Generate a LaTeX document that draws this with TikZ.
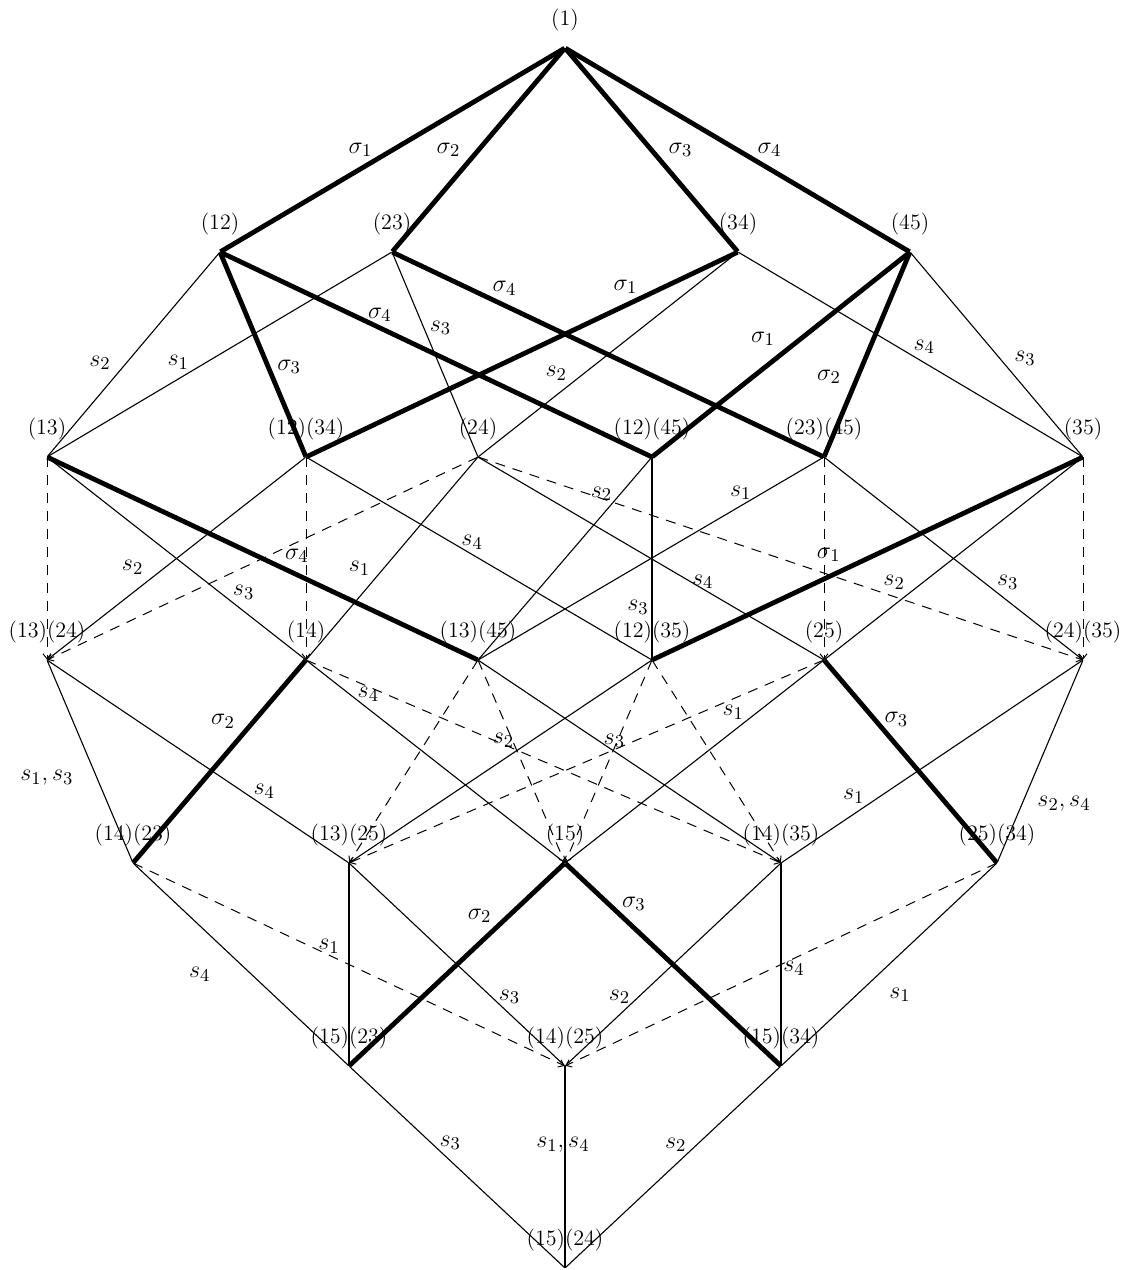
\documentclass[tikz,border=0pt]{standalone}
\usepackage{amsmath}
\usetikzlibrary{arrows.meta}
\DeclareMathSizes{12}{12}{9}{7}
\tikzset{
  vx/.style={inner sep=0pt, minimum size=0pt},
  thin edge/.style={line width=0.55pt},
  thick edge/.style={line width=2.4pt},
  dash edge/.style={line width=0.5pt, dash pattern=on 5pt off 4pt, -{Straight Barb[length=2.5pt,width=4pt]}},
  lbl/.style={inner sep=1pt, font=\fontsize{12}{14}\selectfont}
}

\begin{document}
\begin{tikzpicture}[x=0.5pt, y=-0.5pt, label distance=4.4pt, every node/.append style={lbl},
    every label/.append style={font=\fontsize{11}{13}\selectfont, inner sep=3.67pt}]
  \useasboundingbox (0,0) rectangle (1134,1270);
  % level 0 and 1
  \node[vx, label={above:(1)}] (e) at (565,48) {};
  \node[vx, label={above:(12)}] (t12) at (220,252) {};
  \node[vx, label={above:(23)}] (t23) at (392,252) {};
  \node[vx, label={above:(34)}] (t34) at (738,252) {};
  \node[vx, label={above:(45)}] (t45) at (910,252) {};
  % level 2
  \node[vx, label={above:(13)}] (t13) at (47,457) {};
  \node[vx, label={above:(12)(34)}] (d1234) at (306,457) {};
  \node[vx, label={above:(24)}] (t24) at (478,457) {};
  \node[vx, label={above:(12)(45)}] (d1245) at (652,457) {};
  \node[vx, label={above:(23)(45)}] (d2345) at (824,457) {};
  \node[vx, label={above:(35)}] (t35) at (1083,457) {};
  % level 3
  \node[vx, label={above:(13)(24)}] (d1324) at (47,660) {};
  \node[vx, label={above:(14)}] (t14) at (306,660) {};
  \node[vx, label={above:(13)(45)}] (d1345) at (478,660) {};
  \node[vx, label={above:(12)(35)}] (d1235) at (652,660) {};
  \node[vx, label={above:(25)}] (t25) at (824,660) {};
  \node[vx, label={above:(24)(35)}] (d2435) at (1083,660) {};
  % level 4
  \node[vx, label={above:(14)(23)}] (d1423) at (133,863) {};
  \node[vx, label={above:(13)(25)}] (d1325) at (349,863) {};
  \node[vx, label={above:(15)}] (t15) at (565,863) {};
  \node[vx, label={above:(14)(35)}] (d1435) at (781,863) {};
  \node[vx, label={above:(25)(34)}] (d2534) at (997,863) {};
  % level 5 and 6
  \node[vx, label={above:(15)(23)}] (d1523) at (349,1066) {};
  \node[vx, label={above:(14)(25)}] (d1425) at (565,1066) {};
  \node[vx, label={above:(15)(34)}] (d1534) at (781,1066) {};
  \node[vx, label={above:(15)(24)}] (d1524) at (565,1268) {};

  % dashed edges
  \draw[dash edge] (t13) -- (d1324);
  \draw[dash edge] (d1234) -- (t14);
  \draw[dash edge] (d2345) -- (t25);
  \draw[dash edge] (t35) -- (d2435);
  \draw[dash edge] (t24) -- (d1324);
  \draw[dash edge] (t24) -- (d2435);
  \draw[dash edge] (t14) -- (d1435);
  \draw[dash edge] (d1345) -- (d1325);
  \draw[dash edge] (d1345) -- (t15);
  \draw[dash edge] (d1235) -- (t15);
  \draw[dash edge] (d1235) -- (d1435);
  \draw[dash edge] (t25) -- (d1325);
  \draw[dash edge] (d1423) -- (d1425);
  \draw[dash edge] (d2534) -- (d1425);

  % thin edges
  \draw[thin edge] (t12) -- node[pos=.54, xshift=-13.3pt] {$s_2$} (t13);
  \draw[thin edge] (t23) -- node[pos=.62, yshift=8.4pt] {$s_1$} (t13);
  \draw[thin edge] (t23) -- node[pos=.37, xshift=8.3pt] {$s_3$} (t24);
  \draw[thin edge] (t34) -- node[pos=.70, yshift=11pt] {$s_2$} (t24);
  \draw[thin edge] (t34) -- node[pos=.54, yshift=8pt] {$s_4$} (t35);
  \draw[thin edge] (t45) -- node[pos=.52, xshift=12.5pt] {$s_3$} (t35);
  \draw[thin edge] (t13) -- node[pos=.76, yshift=9.5pt] {$s_3$} (t14);
  \draw[thin edge] (d1234) -- node[pos=.67, yshift=12.7pt] {$s_2$} (d1324);
  \draw[thin edge] (d1234) -- node[pos=.48, yshift=6pt] {$s_4$} (d1235);
  \draw[thin edge] (t24) -- node[pos=.55, xshift=-12pt] {$s_1$} (t14);
  \draw[thin edge] (t24) -- node[pos=.65, yshift=3.5pt] {$s_4$} (t25);
  \draw[thin edge] (d1245) -- node[pos=.18, xshift=-9.5pt] {$s_2$} (d1345);
  \draw[thin edge] (d1245) -- node[pos=.74, xshift=-7pt] {$s_3$} (d1235);
  \draw[thin edge] (d2345) -- node[pos=.24, yshift=6.5pt] {$s_1$} (d1345);
  \draw[thin edge] (d2345) -- node[pos=.71, yshift=9.3pt] {$s_3$} (d2435);
  \draw[thin edge] (t35) -- node[pos=.73, yshift=11.3pt] {$s_2$} (t25);
  \draw[thin edge] (d1324) -- node[pos=.58, xshift=-25pt] {$s_1,s_3$} (d1423);
  \draw[thin edge] (d1324) -- node[pos=.72, yshift=7.5pt] {$s_4$} (d1325);
  \draw[thin edge] (t14) -- node[pos=.24, yshift=7.2pt] {$s_4$} (t15);
  \draw[thin edge] (d1345) -- node[pos=.45, yshift=5.3pt] {$s_3$} (d1435);
  \draw[thin edge] (d1235) -- node[pos=.49, yshift=9.7pt] {$s_2$} (d1325);
  \draw[thin edge] (t25) -- node[pos=.35, yshift=9.4pt] {$s_1$} (t15);
  \draw[thin edge] (d2435) -- node[pos=.76, yshift=9pt] {$s_1$} (d1435);
  \draw[thin edge] (d2435) -- node[pos=.71, xshift=21pt] {$s_2,s_4$} (d2534);
  \draw[thin edge] (d1423) -- node[pos=.55, xshift=-26pt] {$s_4$} (d1523);
  \draw[thin edge] (d1325) -- node[pos=.41, xshift=-10pt] {$s_1$} (d1523);
  \draw[thin edge] (d1325) -- node[pos=.66, xshift=9pt] {$s_3$} (d1425);
  \draw[thin edge] (d1435) -- node[pos=.66, xshift=-9.5pt] {$s_2$} (d1425);
  \draw[thin edge] (d1435) -- node[pos=.52, xshift=6.5pt] {$s_4$} (d1534);
  \draw[thin edge] (d2534) -- node[pos=.65, xshift=21.6pt] {$s_1$} (d1534);
  \draw[thin edge] (d1523) -- node[pos=.38, xshift=9.5pt] {$s_3$} (d1524);
  \draw[thin edge] (d1425) -- node[pos=.39, xshift=-1pt] {$s_1,s_4$} (d1524);
  \draw[thin edge] (d1534) -- node[pos=.39, xshift=-10.5pt] {$s_2$} (d1524);

  % thick edges
  \draw[thick edge] (e) -- node[pos=.5, xshift=-16pt] {$\sigma_1$} (t12);
  \draw[thick edge] (e) -- node[pos=.5, xshift=-15pt] {$\sigma_2$} (t23);
  \draw[thick edge] (e) -- node[pos=.5, xshift=14.5pt] {$\sigma_3$} (t34);
  \draw[thick edge] (e) -- node[pos=.5, xshift=16pt] {$\sigma_4$} (t45);
  \draw[thick edge] (t12) -- node[pos=.56, xshift=10.5pt] {$\sigma_3$} (d1234);
  \draw[thick edge] (t12) -- node[pos=.37, yshift=6.5pt] {$\sigma_4$} (d1245);
  \draw[thick edge] (t23) -- node[pos=.26, yshift=8.5pt] {$\sigma_4$} (d2345);
  \draw[thick edge] (t34) -- node[pos=.26, yshift=9.3pt] {$\sigma_1$} (d1234);
  \draw[thick edge] (t45) -- node[pos=.57, yshift=15pt] {$\sigma_1$} (d1245);
  \draw[thick edge] (t45) -- node[pos=.61, xshift=-14.3pt] {$\sigma_2$} (d2345);
  \draw[thick edge] (t13) -- node[pos=.58, yshift=9.5pt] {$\sigma_4$} (d1345);
  \draw[thick edge] (t35) -- node[pos=.59, yshift=11pt] {$\sigma_1$} (d1235);
  \draw[thick edge] (t14) -- node[pos=.30, xshift=-15.5pt] {$\sigma_2$} (d1423);
  \draw[thick edge] (t25) -- node[pos=.29, xshift=11pt] {$\sigma_3$} (d2534);
  \draw[thick edge] (t15) -- node[pos=.26, xshift=-14.5pt] {$\sigma_2$} (d1523);
  \draw[thick edge] (t15) -- node[pos=.20, xshift=12.7pt] {$\sigma_3$} (d1534);
\end{tikzpicture}
\end{document}
